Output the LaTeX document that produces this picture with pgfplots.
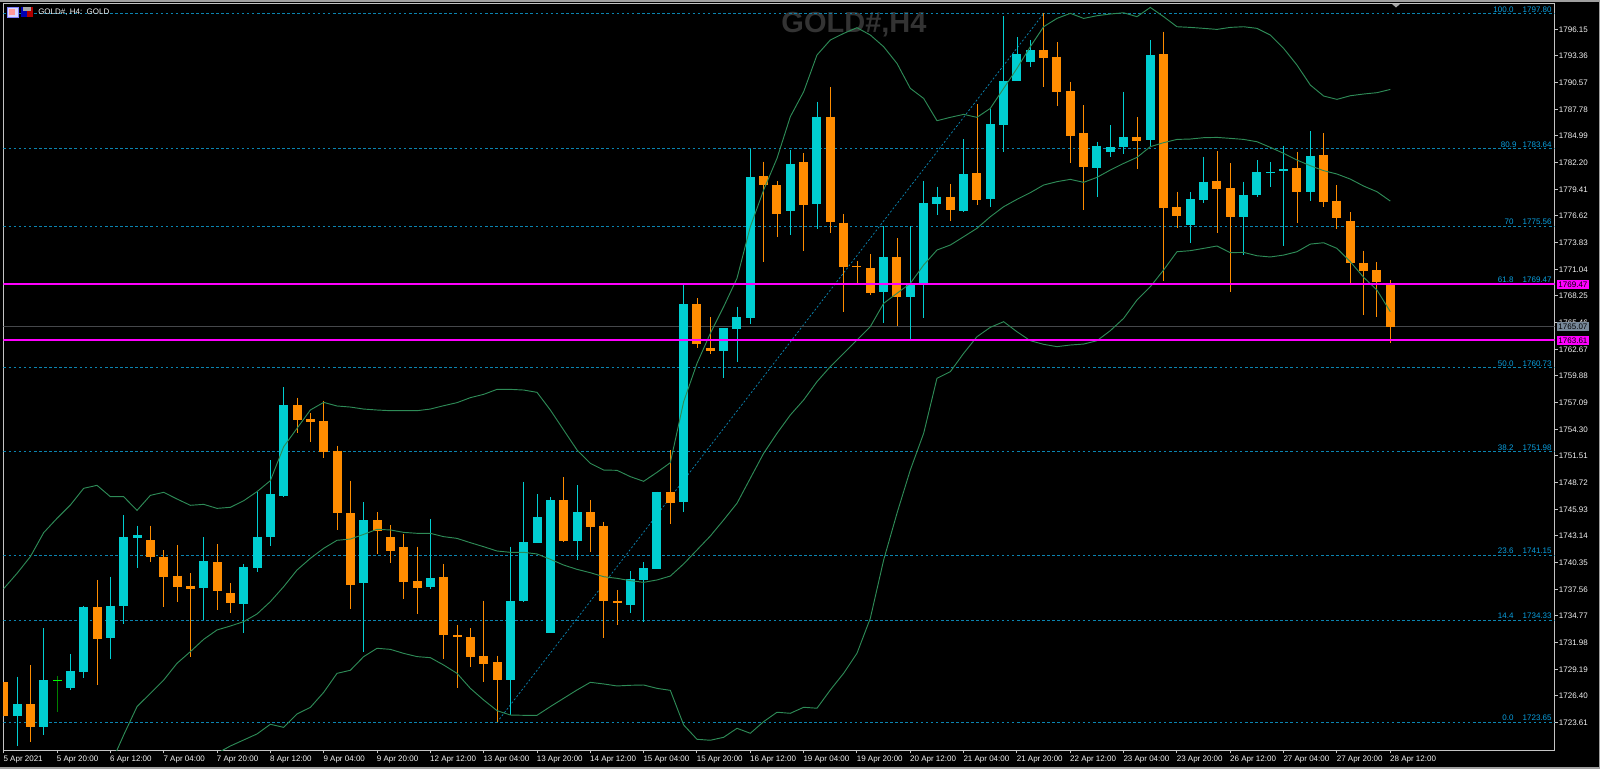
\documentclass[border=0pt]{standalone}
\usepackage{fontspec}
\setmainfont{Liberation Sans}
\usepackage{pgfplots}
\usepackage{pgfplotstable}
\pgfplotsset{compat=1.18}
\definecolor{upc}{HTML}{00CED1}
\definecolor{dnc}{HTML}{FF8C00}
\definecolor{bandc}{HTML}{2E8B57}
\definecolor{fibc}{HTML}{0B84B0}
\definecolor{fibt}{HTML}{0AA0E0}
\definecolor{magc}{HTML}{FF00FF}
\definecolor{bidc}{HTML}{46484B}
\definecolor{axc}{HTML}{C4C4C4}
\definecolor{lab}{HTML}{F4F4F4}
\definecolor{slategr}{HTML}{778899}
\newcommand{\lf}{\fontsize{6pt}{7pt}\selectfont}
% i top bottom high low
\pgfplotstableread{
i top bottom high low
1 1725.53 1724.34 1728.42 1721.21
3 1728.07 1723.12 1733.48 1722.32
5 1729.05 1727.20 1730.79 1727.03
6 1735.68 1728.95 1735.85 1728.25
8 1735.85 1732.47 1738.88 1730.27
9 1743.00 1735.85 1745.34 1733.93
10 1743.24 1742.93 1744.22 1739.79
15 1740.49 1737.66 1743.00 1734.32
18 1739.86 1736.02 1740.21 1732.96
19 1743.07 1739.79 1747.71 1739.34
20 1747.53 1743.00 1751.09 1742.13
21 1756.84 1747.36 1758.69 1747.22
27 1744.81 1738.22 1746.66 1730.97
32 1738.71 1737.77 1744.92 1737.59
38 1736.37 1728.07 1742.02 1724.41
39 1742.48 1736.30 1748.82 1736.20
40 1745.09 1742.41 1747.53 1742.41
41 1746.90 1732.99 1747.18 1732.99
43 1745.61 1742.65 1748.47 1740.63
47 1738.64 1735.96 1739.44 1735.12
48 1739.79 1738.54 1740.38 1734.18
49 1747.78 1739.69 1747.78 1739.69
51 1767.41 1746.66 1769.40 1745.68
54 1764.87 1762.53 1764.87 1759.64
55 1766.02 1764.80 1767.13 1761.31
56 1780.66 1765.91 1783.66 1765.32
59 1782.06 1777.17 1783.52 1774.63
61 1787.01 1777.87 1788.58 1775.26
66 1772.29 1768.63 1775.57 1765.46
68 1769.40 1768.11 1775.57 1763.65
69 1777.94 1769.40 1780.28 1765.91
70 1778.64 1777.87 1779.69 1776.72
72 1781.01 1777.17 1784.64 1777.00
74 1786.24 1778.39 1787.81 1777.59
75 1790.74 1786.13 1797.54 1783.27
76 1793.56 1790.74 1795.30 1790.74
77 1793.98 1792.76 1795.03 1792.24
82 1783.97 1781.60 1784.39 1778.57
83 1783.87 1783.34 1786.13 1782.75
84 1784.84 1783.87 1789.62 1783.10
86 1793.46 1784.56 1795.03 1783.80
89 1778.39 1775.67 1779.09 1773.75
90 1780.21 1778.29 1782.82 1777.94
93 1778.81 1776.54 1780.21 1772.53
94 1781.18 1778.81 1782.47 1778.64
95 1781.25 1781.11 1782.23 1779.61
96 1781.50 1781.29 1783.97 1773.51
98 1782.93 1779.16 1785.47 1778.22
}\upbars
\pgfplotstableread{
i top bottom high low
0 1727.83 1724.34 1727.83 1724.34
2 1725.53 1723.12 1729.64 1721.62
7 1735.68 1732.36 1738.54 1727.55
11 1742.72 1740.91 1744.22 1740.38
12 1740.98 1738.88 1741.67 1735.68
13 1738.99 1737.84 1742.20 1736.20
14 1737.94 1737.59 1739.23 1730.52
16 1740.38 1737.42 1742.30 1735.40
17 1737.14 1736.09 1738.19 1735.12
22 1756.84 1755.27 1757.61 1753.88
23 1755.38 1755.03 1755.97 1753.01
24 1755.20 1751.96 1757.30 1751.26
25 1752.07 1745.54 1752.59 1743.77
26 1745.54 1738.01 1748.93 1735.50
28 1744.81 1743.70 1745.61 1741.26
29 1743.00 1741.53 1744.29 1740.28
30 1741.95 1738.29 1743.35 1736.55
31 1738.40 1737.70 1742.02 1734.98
33 1738.81 1732.82 1740.21 1730.27
34 1732.78 1732.61 1733.83 1727.24
35 1732.54 1730.45 1733.48 1729.47
36 1730.55 1729.75 1736.37 1727.83
37 1729.92 1728.07 1730.62 1723.65
42 1746.90 1742.65 1749.28 1742.55
44 1745.61 1744.11 1746.90 1741.50
45 1744.22 1736.30 1744.64 1732.43
46 1736.37 1736.13 1737.49 1733.83
50 1747.78 1746.56 1752.14 1744.39
52 1767.41 1763.26 1768.00 1762.77
53 1762.77 1762.53 1766.02 1762.18
57 1780.80 1779.86 1782.30 1771.84
58 1779.86 1776.83 1780.28 1774.39
60 1782.23 1777.77 1783.17 1772.99
62 1787.01 1776.02 1790.08 1774.80
63 1775.92 1771.32 1776.83 1766.54
64 1771.39 1771.25 1771.94 1769.57
65 1771.14 1768.56 1772.64 1768.35
67 1772.29 1768.11 1774.28 1765.14
71 1778.64 1777.24 1779.96 1776.13
73 1781.08 1778.29 1788.33 1777.77
78 1793.98 1793.18 1797.82 1790.14
79 1793.28 1789.55 1794.78 1788.12
80 1789.69 1785.02 1790.67 1782.12
81 1785.26 1781.71 1788.23 1777.24
85 1784.91 1784.46 1786.94 1781.53
87 1793.56 1777.42 1795.90 1769.85
88 1777.52 1776.61 1779.16 1775.32
91 1780.31 1779.44 1783.41 1774.80
92 1779.51 1776.47 1782.12 1768.70
97 1781.60 1779.16 1783.34 1775.85
99 1783.00 1778.04 1785.26 1777.52
100 1778.22 1776.37 1779.86 1775.25
101 1776.13 1771.66 1777.00 1769.57
102 1771.66 1770.90 1772.99 1766.26
103 1770.97 1769.67 1771.77 1766.08
104 1769.50 1765.00 1769.92 1763.29
}\dnbars
\pgfplotstableread{
i top bottom high low
4 1728.12 1728.02 1728.53 1724.76
}\dojibars
\pgfplotstableread{
i v
0 1737.63
1 1739.23
2 1740.98
3 1743.49
4 1744.99
5 1746.38
6 1748.13
7 1748.44
8 1747.25
9 1747.25
10 1745.82
11 1747.39
12 1747.71
13 1747.01
14 1746.35
15 1746.45
16 1746.03
17 1746.14
18 1746.83
19 1747.78
20 1748.93
21 1752.48
22 1754.40
23 1756.32
24 1757.12
25 1756.74
26 1756.63
27 1756.42
28 1756.32
29 1756.25
30 1756.25
31 1756.25
32 1756.42
33 1756.77
34 1757.09
35 1757.61
36 1757.96
37 1758.48
38 1758.48
39 1758.41
40 1758.17
41 1756.32
42 1754.23
43 1752.14
44 1750.74
45 1750.04
46 1750.01
47 1749.35
48 1748.86
49 1749.80
50 1750.81
51 1757.19
52 1761.20
53 1764.34
54 1767.13
55 1770.10
56 1775.50
57 1779.34
58 1782.65
59 1787.01
60 1789.62
61 1793.46
62 1795.03
63 1795.72
64 1796.32
65 1795.55
66 1794.33
67 1792.58
68 1789.97
69 1788.92
70 1786.59
71 1786.94
72 1787.25
73 1786.94
74 1787.88
75 1789.97
76 1792.06
77 1794.33
78 1796.42
79 1797.29
80 1797.82
81 1797.29
82 1797.57
83 1797.75
84 1797.88
85 1797.47
86 1798.44
87 1797.47
88 1796.42
89 1796.35
90 1796.25
91 1796.14
92 1796.35
93 1796.42
94 1796.25
95 1795.55
96 1794.15
97 1792.41
98 1790.32
99 1789.17
100 1788.82
101 1789.20
102 1789.38
103 1789.52
104 1789.86
}\bbupper
\pgfplotstableread{
i v
8 1719.18
9 1722.32
10 1725.29
11 1726.68
12 1728.07
13 1729.82
14 1731.04
15 1732.33
16 1733.31
17 1733.72
18 1734.18
19 1734.98
20 1736.27
21 1737.84
22 1739.58
23 1740.80
24 1741.85
25 1742.69
26 1742.82
27 1743.31
28 1743.84
29 1743.77
30 1743.52
31 1743.42
32 1743.42
33 1743.07
34 1742.89
35 1742.44
36 1742.02
37 1741.57
38 1741.43
39 1741.43
40 1741.26
41 1740.70
42 1740.10
43 1739.65
44 1739.30
45 1738.88
46 1738.71
47 1738.47
48 1738.29
49 1738.54
50 1738.95
51 1740.22
52 1741.68
53 1743.14
54 1744.82
55 1746.56
56 1749.18
57 1751.79
58 1753.88
59 1755.80
60 1757.37
61 1759.29
62 1760.86
63 1762.25
64 1763.65
65 1765.04
66 1767.48
67 1768.53
68 1769.57
69 1771.49
70 1773.06
71 1773.58
72 1774.45
73 1775.33
74 1776.54
75 1777.59
76 1778.36
77 1779.06
78 1779.86
79 1780.21
80 1780.45
81 1780.14
82 1780.66
83 1781.43
84 1782.12
85 1782.75
86 1783.87
87 1784.29
88 1784.63
89 1784.67
90 1784.81
91 1784.84
92 1784.74
93 1784.63
94 1784.39
95 1783.80
96 1783.17
97 1782.47
98 1781.88
99 1781.36
100 1781.01
101 1780.48
102 1779.75
103 1779.16
104 1778.18
}\bbmiddle
\pgfplotstableread{
i v
16 1720.40
17 1721.17
18 1721.80
19 1722.43
20 1723.44
21 1723.12
22 1724.52
23 1725.21
24 1726.78
25 1728.77
26 1729.09
27 1730.52
28 1731.39
29 1731.28
30 1730.86
31 1730.52
32 1730.41
33 1729.64
34 1728.77
35 1727.20
36 1725.98
37 1724.87
38 1724.41
39 1724.38
40 1724.38
41 1725.29
42 1726.16
43 1727.03
44 1727.83
45 1727.66
46 1727.45
47 1727.52
48 1727.55
49 1727.20
50 1726.99
51 1723.37
52 1721.87
53 1721.77
54 1722.08
55 1723.02
56 1722.50
57 1723.72
58 1724.70
59 1724.59
60 1725.22
61 1725.12
62 1727.03
63 1728.78
64 1730.87
65 1734.53
66 1740.63
67 1745.52
68 1750.05
69 1753.88
70 1759.64
71 1760.33
72 1762.25
73 1763.99
74 1764.97
75 1765.56
76 1764.51
77 1763.57
78 1763.19
79 1762.95
80 1763.12
81 1763.22
82 1763.57
83 1764.62
84 1765.91
85 1767.83
86 1769.22
87 1770.97
88 1772.88
89 1772.99
90 1773.23
91 1773.48
92 1772.78
93 1772.81
94 1772.46
95 1772.33
96 1772.53
97 1772.88
98 1773.68
99 1773.82
100 1773.23
101 1771.84
102 1770.20
103 1768.87
104 1766.61
}\bblower
\begin{document}
\begin{tikzpicture}
\begin{scope}[x=0.75pt,y=0.75pt]
\path[use as bounding box] (-3.5,-19) rectangle (1596.5,750);
\fill[black] (-3.5,-19) rectangle (1596.5,750);
\fill[gray!75] (-3.5,748) rectangle (1596.5,750);
\fill[gray!75] (1595,-19) rectangle (1596.5,750);
\fill[gray!75] (-3.5,-19) rectangle (1596.5,-17.2);
\node[text=white!20!black,font=\fontsize{21.75pt}{24pt}\selectfont\bfseries,inner sep=0pt] at (850.5,725) {GOLD\#,H4};
\end{scope}
\begin{axis}[
  at={(0,0)},anchor=south west,
  scale only axis,
  width=1163.4pt,height=559.875pt,
  xmin=-0.015,xmax=116.33,
  ymin=1720.75,ymax=1798.85,
  clip mode=individual,
  axis line style={color=axc,line width=0.75pt},
  tick style={color=axc,line width=0.75pt},
  major tick length=2.5pt,
  tick align=outside,
  xtick pos=lower,
  ytick pos=right,
  yticklabel pos=right,
  xtick={0,4,...,104},
  xticklabels={5 Apr 2021,5 Apr 20:00,6 Apr 12:00,7 Apr 04:00,7 Apr 20:00,8 Apr 12:00,9 Apr 04:00,9 Apr 20:00,12 Apr 12:00,13 Apr 04:00,13 Apr 20:00,14 Apr 12:00,15 Apr 04:00,15 Apr 20:00,16 Apr 12:00,19 Apr 04:00,19 Apr 20:00,20 Apr 12:00,21 Apr 04:00,21 Apr 20:00,22 Apr 12:00,23 Apr 04:00,23 Apr 20:00,26 Apr 12:00,27 Apr 04:00,27 Apr 20:00,28 Apr 12:00},
  xticklabel style={anchor=north west,inner sep=0pt,xshift=-0.3pt,yshift=-1.5pt,font=\lf,text=lab},
  ytick={1796.15,1793.36,1790.57,1787.78,1784.99,1782.20,1779.41,1776.62,1773.83,1771.04,1768.25,1765.46,1762.67,1759.88,1757.09,1754.30,1751.51,1748.72,1745.93,1743.14,1740.35,1737.56,1734.77,1731.98,1729.19,1726.40,1723.61},
  yticklabels={1796.15,1793.36,1790.57,1787.78,1784.99,1782.20,1779.41,1776.62,1773.83,1771.04,1768.25,1765.46,1762.67,1759.88,1757.09,1754.30,1751.51,1748.72,1745.93,1743.14,1740.35,1737.56,1734.77,1731.98,1729.19,1726.40,1723.61},
  yticklabel style={anchor=west,inner sep=0pt,xshift=0.5pt,font=\lf,text=lab},
]
% Fibonacci levels
\addplot[fibc,line width=0.6pt,dash pattern=on 2pt off 1.8pt] coordinates {(-0.015,1797.80)(116.33,1797.80)};
\addplot[fibc,line width=0.6pt,dash pattern=on 2pt off 1.8pt] coordinates {(-0.015,1783.64)(116.33,1783.64)};
\addplot[fibc,line width=0.6pt,dash pattern=on 2pt off 1.8pt] coordinates {(-0.015,1775.56)(116.33,1775.56)};
\addplot[fibc,line width=0.6pt,dash pattern=on 2pt off 1.8pt] coordinates {(-0.015,1760.73)(116.33,1760.73)};
\addplot[fibc,line width=0.6pt,dash pattern=on 2pt off 1.8pt] coordinates {(-0.015,1751.98)(116.33,1751.98)};
\addplot[fibc,line width=0.6pt,dash pattern=on 2pt off 1.8pt] coordinates {(-0.015,1741.15)(116.33,1741.15)};
\addplot[fibc,line width=0.6pt,dash pattern=on 2pt off 1.8pt] coordinates {(-0.015,1734.33)(116.33,1734.33)};
\addplot[fibc,line width=0.6pt,dash pattern=on 2pt off 1.8pt] coordinates {(-0.015,1723.65)(116.33,1723.65)};
\addplot[fibc,line width=0.55pt,dash pattern=on 1.5pt off 1.5pt] coordinates {(37,1723.65)(78,1797.80)};
% bid line
\addplot[bidc,line width=1.1pt] coordinates {(-0.015,1765.07)(116.33,1765.07)};
% wicks
\addplot[draw=none,forget plot,error bars/.cd,y dir=minus,y explicit,error mark=none,error bar style={upc,line width=0.7pt}] table[x=i,y=high,y error minus expr=\thisrow{high}-\thisrow{low}] {\upbars};
\addplot[draw=none,forget plot,error bars/.cd,y dir=minus,y explicit,error mark=none,error bar style={dnc,line width=0.7pt}] table[x=i,y=high,y error minus expr=\thisrow{high}-\thisrow{low}] {\dnbars};
\addplot[draw=none,forget plot,error bars/.cd,y dir=minus,y explicit,error mark=none,error bar style={green!50!black,line width=0.7pt}] table[x=i,y=high,y error minus expr=\thisrow{high}-\thisrow{low}] {\dojibars};
% bodies
\addplot[draw=none,forget plot,error bars/.cd,y dir=minus,y explicit,error mark=none,error bar style={upc,line width=6.75pt}] table[x=i,y=top,y error minus expr=\thisrow{top}-\thisrow{bottom}] {\upbars};
\addplot[draw=none,forget plot,error bars/.cd,y dir=minus,y explicit,error mark=none,error bar style={dnc,line width=6.75pt}] table[x=i,y=top,y error minus expr=\thisrow{top}-\thisrow{bottom}] {\dnbars};
\addplot[draw=none,forget plot,error bars/.cd,y dir=minus,y explicit,error mark=none,error bar style={green,line width=6.75pt}] table[x=i,y=top,y error minus expr=\thisrow{top}-\thisrow{bottom}] {\dojibars};
% Bollinger bands
\addplot[bandc,line width=0.7pt] table[x=i,y=v] {\bbupper};
\addplot[bandc,line width=0.7pt] table[x=i,y=v] {\bbmiddle};
\addplot[bandc,line width=0.7pt] table[x=i,y=v] {\bblower};
% horizontal levels
\addplot[magc,line width=1.3pt] coordinates {(-0.015,1769.47)(116.33,1769.47)};
\addplot[magc,line width=1.3pt] coordinates {(-0.015,1763.61)(116.33,1763.61)};
% Fibonacci labels
\node[anchor=south east,inner sep=0.8pt,text=fibt,font=\lf] at (axis cs:113.34,1797.80) {100.0};
\node[anchor=south east,inner sep=0.8pt,text=fibt,font=\lf] at (axis cs:116.2,1797.80) {1797.80};
\node[anchor=south east,inner sep=0.8pt,text=fibt,font=\lf] at (axis cs:113.57,1783.64) {80.9};
\node[anchor=south east,inner sep=0.8pt,text=fibt,font=\lf] at (axis cs:116.2,1783.64) {1783.64};
\node[anchor=south east,inner sep=0.8pt,text=fibt,font=\lf] at (axis cs:113.34,1775.56) {70};
\node[anchor=south east,inner sep=0.8pt,text=fibt,font=\lf] at (axis cs:116.2,1775.56) {1775.56};
\node[anchor=south east,inner sep=0.8pt,text=fibt,font=\lf] at (axis cs:113.34,1769.47) {61.8};
\node[anchor=south east,inner sep=0.8pt,text=fibt,font=\lf] at (axis cs:116.2,1769.47) {1769.47};
\node[anchor=south east,inner sep=0.8pt,text=fibt,font=\lf] at (axis cs:113.34,1760.73) {50.0};
\node[anchor=south east,inner sep=0.8pt,text=fibt,font=\lf] at (axis cs:116.2,1760.73) {1760.73};
\node[anchor=south east,inner sep=0.8pt,text=fibt,font=\lf] at (axis cs:113.34,1751.98) {38.2};
\node[anchor=south east,inner sep=0.8pt,text=fibt,font=\lf] at (axis cs:116.2,1751.98) {1751.98};
\node[anchor=south east,inner sep=0.8pt,text=fibt,font=\lf] at (axis cs:113.34,1741.15) {23.6};
\node[anchor=south east,inner sep=0.8pt,text=fibt,font=\lf] at (axis cs:116.2,1741.15) {1741.15};
\node[anchor=south east,inner sep=0.8pt,text=fibt,font=\lf] at (axis cs:113.34,1734.33) {14.4};
\node[anchor=south east,inner sep=0.8pt,text=fibt,font=\lf] at (axis cs:116.2,1734.33) {1734.33};
\node[anchor=south east,inner sep=0.8pt,text=fibt,font=\lf] at (axis cs:113.34,1723.65) {0.0};
\node[anchor=south east,inner sep=0.8pt,text=fibt,font=\lf] at (axis cs:116.2,1723.65) {1723.65};
% price tags
\node[fill=magc,text=black,font=\lf,inner sep=0pt,minimum width=24pt,minimum height=6.6pt] at (axis cs:117.7,1769.47) {1769.47};
\node[fill=slategr,text=black,font=\lf,inner sep=0pt,minimum width=24pt,minimum height=6.6pt] at (axis cs:117.7,1765.07) {1765.07};
\node[fill=magc,text=black,font=\lf,inner sep=0pt,minimum width=24pt,minimum height=6.6pt] at (axis cs:117.7,1763.61) {1763.61};
\end{axis}
\begin{scope}[x=0.75pt,y=0.75pt]
% window header: pixel coordinates (px-3.5, 750-py)
\fill[white!85!blue] (3.5,733) rectangle (14.5,743);
\fill[red!40!white] (6,735) rectangle (12,741);
\draw[blue!50!white,line width=0.5pt] (3.5,733) rectangle (14.5,743);
\fill[blue!70!black] (17.5,733) rectangle (23.5,743);
\fill[red!70!black] (23.5,733) rectangle (29.5,743);
\fill[gray!70] (20,739) rectangle (27,743);
\node[anchor=west,inner sep=0pt,text=lab,font=\lf] at (34.5,738) {GOLD\#, H4:\ \ GOLD};
\fill[gray!70] (1388.5,746) -- (1396.5,746) -- (1392.5,742.5) -- cycle;
\end{scope}
\end{tikzpicture}
\end{document}
